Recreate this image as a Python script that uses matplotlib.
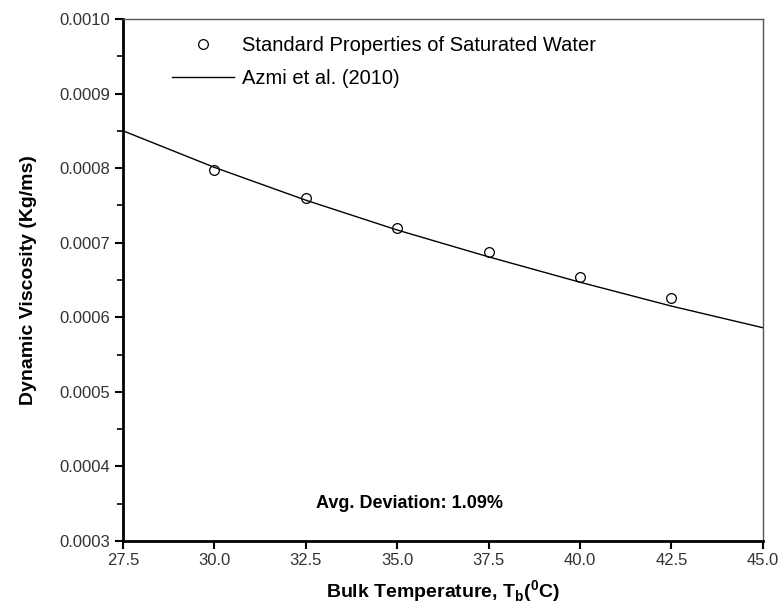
import matplotlib
matplotlib.use("Agg")
from matplotlib import pyplot as plt
from matplotlib.ticker import MultipleLocator, FormatStrFormatter

plt.rcParams['font.family'] = ['Liberation Sans', 'DejaVu Sans']
plt.rcParams['mathtext.fontset'] = 'custom'
plt.rcParams['mathtext.rm'] = 'Liberation Sans'
plt.rcParams['mathtext.bf'] = 'Liberation Sans:bold'

# saturated water table values
tempWater = [30.0, 32.5, 35.0, 37.5, 40.0, 42.5]
viscWater = [0.000798, 0.000760, 0.000720, 0.000687, 0.000654, 0.000626]

# correlation curve read at 2.5 degree steps
tempAzmi = [27.5, 30.0, 32.5, 35.0, 37.5, 40.0, 42.5, 45.0]
viscAzmi = [0.000850, 0.000801, 0.000757, 0.000717, 0.000681, 0.000647, 0.000615, 0.000586]

fig = plt.figure(figsize=(7.84, 6.13), dpi=100)
ax = fig.add_axes([0.157, 0.1175, 0.816, 0.8515])

ax.plot(tempWater, viscWater, linestyle='none', marker='o', markersize=7,
        markerfacecolor='white', markeredgecolor='black', markeredgewidth=0.9,
        label='Standard Properties of Saturated Water')
ax.plot(tempAzmi, viscAzmi, color='black', linewidth=1.0, label='Azmi et al. (2010)')

ax.set_xlim(27.5, 45.0)
ax.set_ylim(0.0003, 0.0010)
ax.xaxis.set_major_locator(MultipleLocator(2.5))
ax.xaxis.set_major_formatter(FormatStrFormatter('%.1f'))
ax.yaxis.set_major_locator(MultipleLocator(0.0001))
ax.yaxis.set_minor_locator(MultipleLocator(0.00005))
ax.yaxis.set_major_formatter(FormatStrFormatter('%.4f'))

ax.tick_params(which='major', direction='out', length=6, width=1.5,
               labelsize=12, labelcolor='#333333', pad=3)
ax.tick_params(which='minor', direction='out', length=4, width=1.2)
ax.tick_params(top=False, right=False)

for side in ['left', 'bottom']:
    ax.spines[side].set_linewidth(2.0)
for side in ['top', 'right']:
    ax.spines[side].set_linewidth(1.0)
    ax.spines[side].set_color('#555555')

ax.set_xlabel(r'Bulk Temperature, T$_\mathbf{b}$($^\mathbf{0}$C)', fontsize=14,
              fontweight='bold', labelpad=7)
ax.set_ylabel('Dynamic Viscosity (Kg/ms)', fontsize=14, fontweight='bold', labelpad=16)

ax.legend(loc='upper left', bbox_to_anchor=(0.048, 1.002), frameon=False, fontsize=14.5,
          handlelength=3.1, handletextpad=0.4, labelspacing=0.7)

ax.text(0.448, 0.071, 'Avg. Deviation: 1.09%', transform=ax.transAxes, ha='center',
        va='center', fontsize=13, fontweight='bold')

fig.savefig('out.png', dpi=100)
